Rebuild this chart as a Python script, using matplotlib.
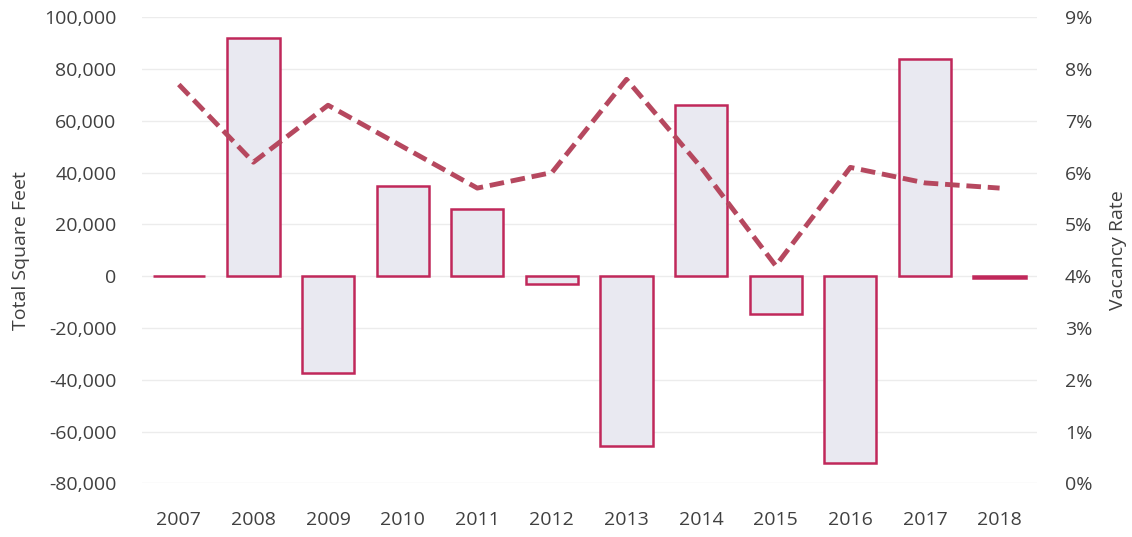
import numpy as np
import matplotlib.pyplot as plt
from matplotlib.ticker import FuncFormatter

# data
years = ['2007', '2008', '2009', '2010', '2011', '2012',
         '2013', '2014', '2015', '2016', '2017', '2018']
square_feet = [0, 92000, -37500, 35000, 26000, -3000,
               -65500, 66000, -14500, -72000, 84000, -800]
vacancy_pct = [7.7, 6.2, 7.3, 6.5, 5.7, 6.0,
               7.8, 6.1, 4.2, 6.1, 5.8, 5.7]

plt.rcParams['font.family'] = ['Open Sans', 'DejaVu Sans']
text_color = '#404040'

fig = plt.figure(figsize=(11.32, 5.37), dpi=100)
ax = fig.add_axes([0.125, 0.1, 0.791, 0.868])

x = np.arange(len(years))
ax.bar(x, square_feet, width=0.7, color='#e9e9f1', edgecolor='#c0285a',
       linewidth=1.8, zorder=2)

ax.set_ylim(-80000, 100000)
ax.set_yticks(np.arange(-80000, 100001, 20000))
ax.yaxis.set_major_formatter(FuncFormatter(lambda v, p: f'{int(v):,}'))
ax.set_xlim(-0.5, len(years) - 0.5)
ax.set_xticks(x)
ax.set_xticklabels(years)
ax.grid(axis='y', color='#ececec', linewidth=1.0, zorder=0)
ax.set_axisbelow(True)
ax.tick_params(length=0, labelsize=14, colors=text_color)
ax.tick_params(axis='x', pad=20)
ax.tick_params(axis='y', pad=18)
ax.set_ylabel('Total Square Feet', fontsize=14, color=text_color, labelpad=10)
for s in ax.spines.values():
    s.set_visible(False)

# vacancy rate on the right axis
ax2 = ax.twinx()
ax2.plot(x, vacancy_pct, color='#b6485f', linewidth=3.5,
         linestyle=(0, (3.0, 1.4)), zorder=3)
ax2.set_ylim(0, 9)
ax2.set_yticks(range(0, 10))
ax2.yaxis.set_major_formatter(FuncFormatter(lambda v, p: f'{int(v)}%'))
ax2.tick_params(length=0, labelsize=14, colors=text_color, pad=20)
ax2.set_ylabel('Vacancy Rate', fontsize=14, color=text_color, labelpad=12)
for s in ax2.spines.values():
    s.set_visible(False)

fig.savefig('out.png', dpi=100)
